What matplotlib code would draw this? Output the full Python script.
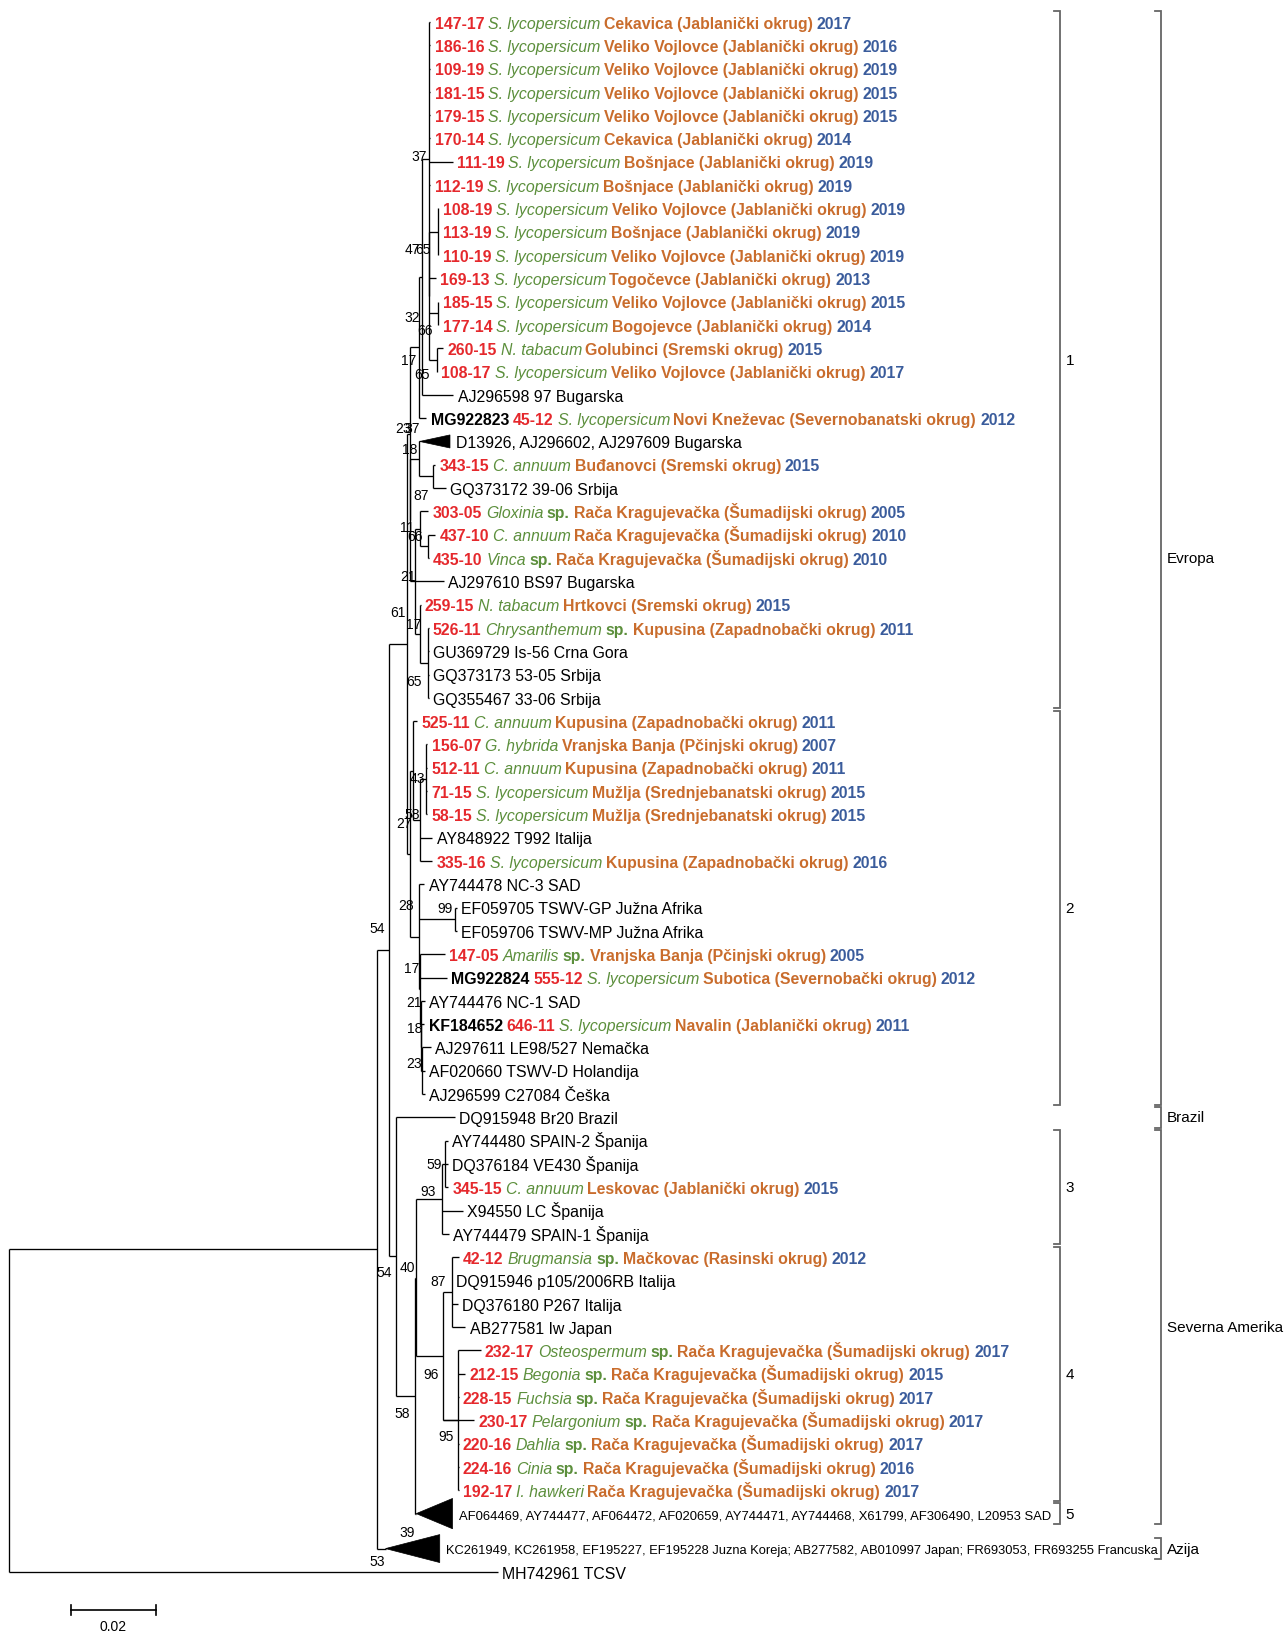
import re
import matplotlib
matplotlib.use('Agg')
import matplotlib.pyplot as plt
from matplotlib import font_manager as fm
from matplotlib.transforms import offset_copy
from matplotlib.patches import Polygon

# ---------------- data ----------------
JAB = '(Jablanički okrug)'
SUM = 'Rača Kragujevačka (Šumadijski okrug)'
SL = 'S. lycopersicum'

# leaf labels, top to bottom: (accession, isolate, host, locality, year) or (reference text,)
leaf_labels = [
    ('', '147-17', SL, 'Cekavica ' + JAB, '2017'),
    ('', '186-16', SL, 'Veliko Vojlovce ' + JAB, '2016'),
    ('', '109-19', SL, 'Veliko Vojlovce ' + JAB, '2019'),
    ('', '181-15', SL, 'Veliko Vojlovce ' + JAB, '2015'),
    ('', '179-15', SL, 'Veliko Vojlovce ' + JAB, '2015'),
    ('', '170-14', SL, 'Cekavica ' + JAB, '2014'),
    ('', '111-19', SL, 'Bošnjace ' + JAB, '2019'),
    ('', '112-19', SL, 'Bošnjace ' + JAB, '2019'),
    ('', '108-19', SL, 'Veliko Vojlovce ' + JAB, '2019'),
    ('', '113-19', SL, 'Bošnjace ' + JAB, '2019'),
    ('', '110-19', SL, 'Veliko Vojlovce ' + JAB, '2019'),
    ('', '169-13', SL, 'Togočevce ' + JAB, '2013'),
    ('', '185-15', SL, 'Veliko Vojlovce ' + JAB, '2015'),
    ('', '177-14', SL, 'Bogojevce ' + JAB, '2014'),
    ('', '260-15', 'N. tabacum', 'Golubinci (Sremski okrug)', '2015'),
    ('', '108-17', SL, 'Veliko Vojlovce ' + JAB, '2017'),
    ('AJ296598 97 Bugarska',),
    ('MG922823', '45-12', SL, 'Novi Kneževac (Severnobanatski okrug)', '2012'),
    ('D13926, AJ296602, AJ297609 Bugarska',),
    ('', '343-15', 'C. annuum', 'Buđanovci (Sremski okrug)', '2015'),
    ('GQ373172 39-06 Srbija',),
    ('', '303-05', 'Gloxinia sp.', SUM, '2005'),
    ('', '437-10', 'C. annuum', SUM, '2010'),
    ('', '435-10', 'Vinca sp.', SUM, '2010'),
    ('AJ297610 BS97 Bugarska',),
    ('', '259-15', 'N. tabacum', 'Hrtkovci (Sremski okrug)', '2015'),
    ('', '526-11', 'Chrysanthemum sp.', 'Kupusina (Zapadnobački okrug)', '2011'),
    ('GU369729 Is-56 Crna Gora',),
    ('GQ373173 53-05 Srbija',),
    ('GQ355467 33-06 Srbija',),
    ('', '525-11', 'C. annuum', 'Kupusina (Zapadnobački okrug)', '2011'),
    ('', '156-07', 'G. hybrida', 'Vranjska Banja (Pčinjski okrug)', '2007'),
    ('', '512-11', 'C. annuum', 'Kupusina (Zapadnobački okrug)', '2011'),
    ('', '71-15', SL, 'Mužlja (Srednjebanatski okrug)', '2015'),
    ('', '58-15', SL, 'Mužlja (Srednjebanatski okrug)', '2015'),
    ('AY848922 T992 Italija',),
    ('', '335-16', SL, 'Kupusina (Zapadnobački okrug)', '2016'),
    ('AY744478 NC-3 SAD',),
    ('EF059705 TSWV-GP Južna Afrika',),
    ('EF059706 TSWV-MP Južna Afrika',),
    ('', '147-05', 'Amarilis sp.', 'Vranjska Banja (Pčinjski okrug)', '2005'),
    ('MG922824', '555-12', SL, 'Subotica (Severnobački okrug)', '2012'),
    ('AY744476 NC-1 SAD',),
    ('KF184652', '646-11', SL, 'Navalin ' + JAB, '2011'),
    ('AJ297611 LE98/527 Nemačka',),
    ('AF020660 TSWV-D Holandija',),
    ('AJ296599 C27084 Češka',),
    ('DQ915948 Br20 Brazil',),
    ('AY744480 SPAIN-2 Španija',),
    ('DQ376184 VE430 Španija',),
    ('', '345-15', 'C. annuum', 'Leskovac ' + JAB, '2015'),
    ('X94550 LC Španija',),
    ('AY744479 SPAIN-1 Španija',),
    ('', '42-12', 'Brugmansia sp.', 'Mačkovac (Rasinski okrug)', '2012'),
    ('DQ915946 p105/2006RB Italija',),
    ('DQ376180 P267 Italija',),
    ('AB277581 Iw Japan',),
    ('', '232-17', 'Osteospermum sp.', SUM, '2017'),
    ('', '212-15', 'Begonia sp.', SUM, '2015'),
    ('', '228-15', 'Fuchsia sp.', SUM, '2017'),
    ('', '230-17', 'Pelargonium sp.', SUM, '2017'),
    ('', '220-16', 'Dahlia sp.', SUM, '2017'),
    ('', '224-16', 'Cinia sp.', SUM, '2016'),
    ('', '192-17', 'I. hawkeri', SUM, '2017'),
    ('AF064469, AY744477, AF064472, AF020659, AY744471, AY744468, X61799, AF306490, L20953 SAD',),
    ('KC261949, KC261958, EF195227, EF195228 Juzna Koreja; AB277582, AB010997 Japan; FR693053, FR693255 Francuska',),
    ('MH742961 TCSV',),
]

# tree topology with branch lengths (substitutions/site); leaves named L<row>
newick = """
(L66:0.1144,
 (((((((L0:0.0002,L1:0.0002,L2:0.0002,L3:0.0002,L4:0.0002,L5:0.0002,L6:0.0054,L7:0.0002,
        ((L8:0.0001,L9:0.0001,L10:0.0001)B:0.0020,L11:0.0015,(L12:0.0001,L13:0.0001)Cc:0.0020,
         (L14:0.0015,L15:0.0001)D:0.0017)A0x:0.0000)A0:0.0017,
       L16:0.0073)A1:0.0007,
      L17:0.0017)A2:0.0022,
     ((L18:0.0002,(L19:0.0005,L20:0.0029)G1:0.0034)H1:0.0020,
      ((L21:0.0020,(L22:0.0017,L23:0.0001)G2:0.0020)H2:0.0012,
       L24:0.0068,
       (L25:0.0002,(L26:0.0001,L27:0.0001,L28:0.0001,L29:0.0001)G3:0.0020)H3:0.0012)H4:0.0010)H5:0.0001)C1:0.0007,
    ((L30:0.0010,((L31:0.0002,L32:0.0002,L33:0.0002,L34:0.0002)n43:0.0015,L35:0.0029,L36:0.0029)n58:0.0017)P27:0.0007,
     (L37:0.0012,(L38:0.0005,L39:0.0005)EF:0.0083,
      (L40:0.0059,L41:0.0063,(L42:0.0010,(L43:0.0007,(L44:0.0022,L45:0.0007,L46:0.0007)n23:0.0001)n18:0.0002)n21:0.0001)n17:0.0002)Pb:0.0022)C2:0.0007)E:0.0041,
   (L47:0.0139,
    ((((L48:0.0007,L49:0.0007,L50:0.0007)C3a:0.0007,L51:0.0049,L52:0.0015)C3:0.0061,
      ((L53:0.0017,L54:0.0001,L55:0.0015,L56:0.0032)n87:0.0020,L60:0.0073,
       (L57:0.0054,L58:0.0017,L59:0.0002,L61:0.0002,L62:0.0002,L63:0.0002)n95:0.0034)X:0.0063)N5:0.0002,
     L64:0.0002)N4:0.0046)N3:0.0015)N2:0.0029,
  L65:0.0020)N1:0.0861)R;
"""

# collapsed clades drawn as triangles: leaf row -> depth of the clade
collapsed = {18: 0.0071, 64: 0.0085, 65: 0.0127}

boot_values = ['37', '47', '65', '32', '66', '17', '65', '23', '37', '18', '87', '11', '66', '21',
               '61', '17', '65', '43', '58', '27', '28', '99', '54', '17', '21', '18', '23',
               '59', '93', '40', '54', '87', '96', '58', '95', '39', '53']

clades = [('1', 0, 29), ('2', 30, 46), ('3', 48, 52), ('4', 53, 63), ('5', 64, 64)]
regions = [('Evropa', 0, 46), ('Brazil', 47, 47), ('Severna Amerika', 48, 64), ('Azija', 65, 65)]

# ---------------- layout ----------------
RED, GREEN, ORANGE, BLUE = '#e5282c', '#5c8f3c', '#c96c2c', '#3a5c9c'
_names = {f.name for f in fm.fontManager.ttflist}
NARROW = [f for f in ['Liberation Sans Narrow', 'Arial Narrow', 'Liberation Sans'] if f in _names] + ['DejaVu Sans']
ARIAL = ['Liberation Sans', 'DejaVu Sans']
STYLE = {
    'id': dict(color=RED, fontweight='bold'),
    'host': dict(color=GREEN, fontstyle='italic'),
    'sp': dict(color=GREEN, fontweight='bold'),
    'loc': dict(color=ORANGE, fontweight='bold'),
    'yr': dict(color=BLUE, fontweight='bold'),
    'acc': dict(color='black'),
    'accb': dict(color='black', fontweight='bold'),
}
GAP = 4.0  # dots between coloured pieces
GAP_AFTER = {'host': 3.4}

# bootstrap label centres, measured on the 1234 px wide reference copy
boot_pos = [(403, 151), (396, 240), (406, 240), (396, 305), (408, 318), (392, 347), (405, 360),
            (387, 412), (396, 412), (393, 432), (404, 476), (391, 507), (399, 516), (392, 554),
            (382, 589), (397, 600), (398, 655), (401, 748), (396, 783), (388, 791), (390, 870),
            (427, 873), (362, 892), (395, 930), (398, 963), (398, 988), (398, 1022),
            (417, 1119), (411, 1145), (391, 1218), (369, 1222), (421, 1231), (414, 1320),
            (386, 1358), (428, 1380), (391, 1472), (362, 1500)]
tri_half = {18: 0.28, 64: 0.65, 65: 0.6}


def px2x(p):
    return (p - 9) / 4100.0


def px2y(p):
    return (p - 22) / 22.38


def row_y(i):
    return i + (0.5 if i >= 65 else 0.0)


def parse(s):
    s = re.sub(r'\s+', '', s).rstrip(';')
    pos = 0

    def node():
        nonlocal pos
        ch = []
        if s[pos] == '(':
            pos += 1
            while True:
                ch.append(node())
                if s[pos] == ',':
                    pos += 1
                    continue
                pos += 1
                break
        m = re.match(r'[A-Za-z0-9_]*', s[pos:])
        name = m.group(0)
        pos += len(name)
        bl = 0.0
        if pos < len(s) and s[pos] == ':':
            m = re.match(r':([0-9.]+)', s[pos:])
            bl = float(m.group(1))
            pos += len(m.group(0))
        return {'name': name, 'bl': bl, 'ch': ch}
    return node()


def place(n, x0):
    n['x'] = x0 + n['bl']
    if n['ch']:
        ys = [place(c, n['x']) for c in n['ch']]
        n['y'] = (min(ys) + max(ys)) / 2
    else:
        n['y'] = row_y(int(n['name'][1:]))
    return n['y']


def segments(lab):
    if len(lab) == 1:
        return [(lab[0], 'acc')]
    acc, iso, host, loc, yr = lab
    segs = [(acc, 'accb')] if acc else []
    segs.append((iso, 'id'))
    if host.endswith(' sp.'):
        segs += [(host[:-4], 'host'), ('sp.', 'sp')]
    else:
        segs.append((host, 'host'))
    return segs + [(loc, 'loc'), (yr, 'yr')]


tree = parse(newick)
tree['bl'] = 0.0
place(tree, 0.0)

fig = plt.figure(figsize=(12.85, 16.33), dpi=100)
ax = fig.add_axes([0, 0, 1, 1])
ax.set_xlim(px2x(0), px2x(1234))
ax.set_ylim(px2y(1568), px2y(0))
ax.axis('off')
fig.canvas.draw()
rend = fig.canvas.get_renderer()


def seg_width(segs, fs, family):
    w = 0.0
    for txt, st in segs:
        t = ax.text(0, 0, txt, fontsize=fs, family=family, **STYLE[st])
        w += t.get_window_extent(rend).width
        t.remove()
    return w


def fit_size(segs, target, family, fs0=13.0):
    # font size that gives the label the width it has in the reference
    gaps = sum(GAP_AFTER.get(st, GAP) for _, st in segs[:-1])
    return fs0 * (target - gaps) / seg_width(segs, fs0, family)


FS = min(13.4, fit_size(segments(leaf_labels[0]), 415.0, NARROW))
FS_64 = fit_size(segments(leaf_labels[64]), 588.0, NARROW)
FS_65 = fit_size(segments(leaf_labels[65]), 706.0, NARROW)
FS_CL = min(11.5, fit_size([('Severna Amerika', 'acc')], 116.0, ARIAL))
FS_BT = 10.0

LW = 0.95
tips = {}


def draw(n):
    if not n['ch']:
        i = int(n['name'][1:])
        if i in collapsed:
            w, h = collapsed[i], tri_half[i]
            ax.add_patch(Polygon([(n['x'], n['y']), (n['x'] + w, n['y'] - h), (n['x'] + w, n['y'] + h)],
                                 closed=True, fc='black', ec='black', lw=0.5))
            tips[i] = n['x'] + w
        else:
            tips[i] = n['x']
        return
    ys = [c['y'] for c in n['ch']]
    ax.plot([n['x'], n['x']], [min(ys), max(ys)], color='black', lw=LW, solid_capstyle='butt')
    for c in n['ch']:
        ax.plot([n['x'], c['x']], [c['y'], c['y']], color='black', lw=LW, solid_capstyle='butt')
        draw(c)


draw(tree)

# leaf labels, built from coloured pieces
for i, lab in enumerate(leaf_labels):
    segs = segments(lab)
    fs = {64: FS_64, 65: FS_65}.get(i, FS)
    gap = 0.0015 if i in collapsed else 0.00098
    cap = 0.72 * fs * 100 / 72 / 23.3  # cap height in rows
    x0, y0 = tips[i] + gap, row_y(i) + cap / 2
    dx = 0.0
    for txt, st in segs:
        tr = offset_copy(ax.transData, fig=fig, x=dx, y=0, units='dots')
        t = ax.text(x0, y0, txt, transform=tr, ha='left', va='baseline', fontsize=fs,
                    family=NARROW, **STYLE[st])
        dx += t.get_window_extent(rend).width + GAP_AFTER.get(st, GAP)

# bootstrap values
for v, (px, py) in zip(boot_values, boot_pos):
    ax.text(px2x(px), px2y(py), v, ha='center', va='center', fontsize=FS_BT, family=NARROW)

# clade brackets
BR = '#666666'


def bracket(x, lab, r0, r1):
    y0, y1 = row_y(r0) - 0.45, row_y(r1) + 0.45
    t = 0.0015
    ax.plot([x - t, x, x, x - t], [y0, y0, y1, y1], color=BR, lw=1.3, solid_joinstyle='miter')
    ax.text(x + 0.0013, (y0 + y1) / 2, lab, ha='left', va='center', fontsize=FS_CL, family=ARIAL)


for lab, a, b in clades:
    bracket(px2x(1018), lab, a, b)
for lab, a, b in regions:
    bracket(px2x(1115), lab, a, b)

# scale bar
sx, sy = px2x(68), px2y(1547)
ax.plot([sx, sx + 0.02], [sy, sy], color='black', lw=1.2)
for xx in (sx, sx + 0.02):
    ax.plot([xx, xx], [sy - 0.22, sy + 0.22], color='black', lw=1.2)
ax.text(sx + 0.01, px2y(1562), '0.02', ha='center', va='center', fontsize=FS_BT, family=NARROW)

plt.savefig('out.png', dpi=100)
